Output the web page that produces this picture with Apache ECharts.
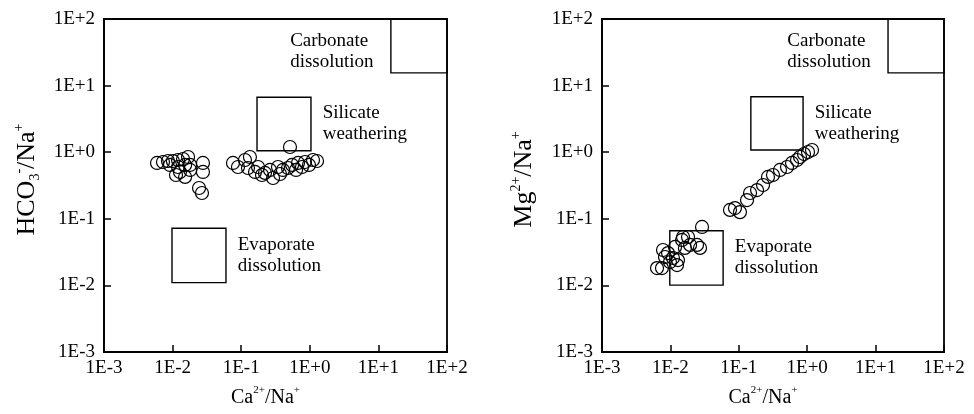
<!DOCTYPE html>
<html><head><meta charset="utf-8">
<script src="https://cdn.jsdelivr.net/npm/echarts@6/dist/echarts.min.js"></script>
<style>html,body{margin:0;padding:0;background:#fff}#c{width:974px;height:414px}</style>
</head><body><div id="c"></div><script>
// tick labels (decades)
const tickLabels = ['1E-3','1E-2','1E-1','1E+0','1E+1','1E+2'];

// Left panel: Ca2+/Na+ vs HCO3-/Na+
const leftPoints = [
  [0.00593,0.689],[0.00724,0.713],[0.00857,0.738],[0.0101,0.738],[0.0120,0.764],[0.0142,0.791],
  [0.0168,0.847],[0.0180,0.643],[0.0128,0.505],[0.0152,0.425],[0.0112,0.455],[0.0180,0.541],
  [0.0277,0.689],[0.0277,0.505],[0.0243,0.290],[0.0268,0.244],[0.00916,0.643],[0.0152,0.643],[0.0120,0.600],
  [0.0759,0.689],[0.0897,0.600],[0.1135,0.764],[0.134,0.847],[0.1256,0.579],[0.159,0.505],[0.176,0.600],
  [0.222,0.488],[0.263,0.541],[0.291,0.410],[0.344,0.600],[0.406,0.541],[0.481,0.579],[0.551,0.643],
  [0.630,0.541],[0.673,0.689],[0.769,0.600],[0.851,0.713],[0.973,0.643],[1.114,0.764],[1.274,0.738],
  [0.514,1.197],[0.201,0.455],[0.368,0.471]
];
// Right panel: Ca2+/Na+ vs Mg2+/Na+
const rightPoints = [
  [0.00637,0.0182],[0.00753,0.0182],[0.00834,0.0267],[0.00780,0.0340],[0.00923,0.0306],[0.0109,0.0258],
  [0.0125,0.0202],[0.0129,0.0240],[0.0117,0.0378],[0.0148,0.0481],[0.0153,0.0533],[0.0181,0.0533],
  [0.0194,0.0405],[0.0245,0.0405],[0.0271,0.0365],[0.0290,0.0754],[0.0743,0.136],[0.0879,0.145],
  [0.104,0.126],[0.132,0.191],[0.146,0.244],[0.185,0.270],[0.226,0.322],[0.267,0.425],[0.316,0.455],
  [0.400,0.541],[0.507,0.600],[0.600,0.689],[0.710,0.764],[0.785,0.847],[0.898,0.940],[1.028,1.007],
  [1.175,1.079],[0.00986,0.0224],[0.0163,0.0365]
];

// end-member boxes: [xMin, yMin, xMax, yMax]
const leftCarbonate = [15.2, 15.5, 100, 100];
const leftSilicate  = [0.170, 1.05, 1.04, 6.7];
const leftEvaporite = [0.0098, 0.011, 0.060, 0.072];
const rightCarbonate = [15.2, 15.5, 100, 100];
const rightSilicate  = [0.15, 1.08, 0.87, 6.8];
const rightEvaporite = [0.0098, 0.0101, 0.059, 0.066];

const boxNames = ['Carbonate\ndissolution', 'Silicate\nweathering', 'Evaporate\ndissolution'];

const SERIF = '"Liberation Serif","Times New Roman",serif';

function boxData(carb, sil, evap) {
  return [
    [{name: boxNames[0], coord: [carb[0], carb[1]],
      label: {position: [-100, 12], align: 'left', verticalAlign: 'top'}},
     {coord: [carb[2], carb[3]]}],
    [{name: boxNames[1], coord: [sil[0], sil[1]],
      label: {position: 'right', distance: 11, align: 'left'}},
     {coord: [sil[2], sil[3]]}],
    [{name: boxNames[2], coord: [evap[0], evap[1]],
      label: {position: 'right', distance: 11, align: 'left'}},
     {coord: [evap[2], evap[3]]}]
  ];
}

function fmt(v) {
  const e = Math.round(Math.log10(v));
  return tickLabels[e + 3] || '';
}

const richX = {
  n: {fontSize: 20, fontFamily: SERIF, color: '#000', lineHeight: 26},
  sup: {fontSize: 11, fontFamily: SERIF, color: '#000', lineHeight: 12, verticalAlign: 'top'},
  sub: {fontSize: 11, fontFamily: SERIF, color: '#000', lineHeight: 12, verticalAlign: 'bottom'}
};
const richY = {
  n: {fontSize: 26, fontFamily: SERIF, color: '#000', lineHeight: 30},
  sup: {fontSize: 14, fontFamily: SERIF, color: '#000', lineHeight: 14, verticalAlign: 'top'},
  sub: {fontSize: 14, fontFamily: SERIF, color: '#000', lineHeight: 14, verticalAlign: 'bottom'}
};

function xAxis(idx) {
  return {
    type: 'log', logBase: 10, min: 0.001, max: 100, gridIndex: idx,
    name: '{n|Ca}{sup|2+}{n|/Na}{sup|+}', nameLocation: 'middle', nameGap: 33,
    nameTextStyle: {rich: richX, padding: [0, 20, 0, 0]},
    axisLine: {lineStyle: {color: '#000', width: 1.8}},
    axisTick: {inside: true, length: 7, lineStyle: {color: '#000', width: 1.5}},
    minorTick: {show: false},
    splitLine: {show: false},
    axisLabel: {color: '#000', fontFamily: SERIF, fontSize: 19, margin: 7,
      showMinLabel: true, showMaxLabel: true, formatter: fmt}
  };
}
function yAxis(idx, name, gap) {
  return {
    type: 'log', logBase: 10, min: 0.001, max: 100, gridIndex: idx,
    name: name, nameLocation: 'middle', nameGap: gap, nameRotate: 90,
    nameTextStyle: {rich: richY, padding: [0, 0, 0, 12]},
    axisLine: {lineStyle: {color: '#000', width: 1.8}},
    axisTick: {inside: true, length: 7, lineStyle: {color: '#000', width: 1.5}},
    minorTick: {show: false},
    splitLine: {show: false},
    axisLabel: {color: '#000', fontFamily: SERIF, fontSize: 19, margin: 9,
      showMinLabel: true, showMaxLabel: true, formatter: fmt}
  };
}

function scatter(idx, data, carb, sil, evap) {
  return {
    type: 'scatter', xAxisIndex: idx, yAxisIndex: idx, data: data,
    symbol: 'circle', symbolSize: 13, silent: true,
    itemStyle: {color: 'rgba(0,0,0,0)', borderColor: '#000', borderWidth: 1.2, opacity: 1},
    markArea: {
      silent: true,
      itemStyle: {color: 'rgba(0,0,0,0)', borderColor: '#000', borderWidth: 1.4},
      label: {show: true, color: '#000', fontFamily: SERIF, fontSize: 19, lineHeight: 21, formatter: '{b}'},
      data: boxData(carb, sil, evap)
    }
  };
}

const chart = echarts.init(document.getElementById('c'), null, {renderer: 'canvas'});
chart.setOption({
  animation: false,
  backgroundColor: '#fff',
  grid: [
    {left: 104, top: 19, width: 343, height: 333, show: true, borderColor: '#000', borderWidth: 1.8},
    {left: 602, top: 19, width: 342, height: 333, show: true, borderColor: '#000', borderWidth: 1.8}
  ],
  xAxis: [xAxis(0), xAxis(1)],
  yAxis: [
    yAxis(0, '{n|HCO}{sub|3}{sup|-}{n|/Na}{sup|+}', 62),
    yAxis(1, '{n|Mg}{sup|2+}{n|/Na}{sup|+}', 63)
  ],
  series: [
    scatter(0, leftPoints, leftCarbonate, leftSilicate, leftEvaporite),
    scatter(1, rightPoints, rightCarbonate, rightSilicate, rightEvaporite)
  ]
});
</script></body></html>
